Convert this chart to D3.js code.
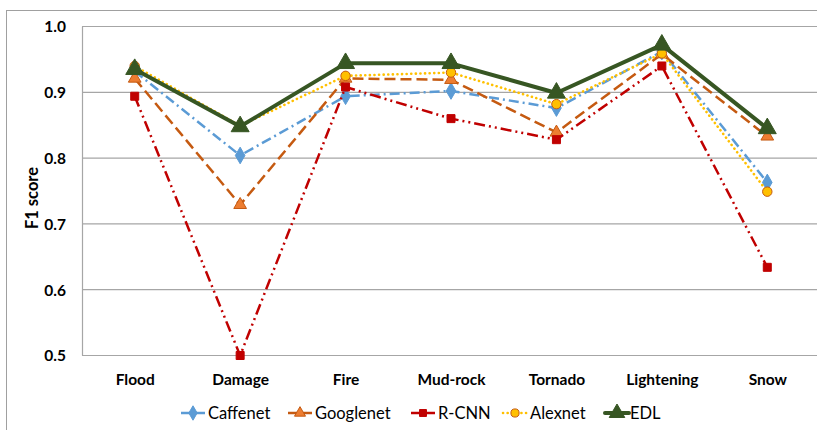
<!DOCTYPE html>
<html><head><meta charset="utf-8">
<script src="https://cdn.jsdelivr.net/npm/d3@7"></script>
<style>body{margin:0;background:#fff;} svg{display:block;}</style>
</head><body>
<svg id="chart" width="817" height="430"></svg>
<script>
const categories = ["Flood","Damage","Fire","Mud-rock","Tornado","Lightening","Snow"];
const caffenet  = [0.932, 0.804, 0.894, 0.902, 0.876, 0.962, 0.763];
const googlenet = [0.921, 0.729, 0.921, 0.919, 0.839, 0.958, 0.833];
const rcnn      = [0.894, 0.500, 0.908, 0.860, 0.828, 0.940, 0.634];
const alexnet   = [0.940, 0.849, 0.925, 0.930, 0.882, 0.959, 0.749];
const edl       = [0.935, 0.848, 0.944, 0.944, 0.899, 0.972, 0.845];
const yTicks = [0.5, 0.6, 0.7, 0.8, 0.9, 1.0];
const seriesNames = ["Caffenet","Googlenet","R-CNN","Alexnet","EDL"];

const series = [
  {name:seriesNames[0], values:caffenet,  line:"#5B9BD5", fill:"#5B9BD5", mstroke:"#5B9BD5", dash:"10 4 2 4", width:2.5, cap:"butt", marker:"diamond", msize:80},
  {name:seriesNames[1], values:googlenet, line:"#C55A11", fill:"#ED7D31", mstroke:"#C55A11", dash:"11 5", width:2.5, cap:"butt", marker:"triangle", msize:70},
  {name:seriesNames[2], values:rcnn,      line:"#C00000", fill:"#C00000", mstroke:"#C00000", dash:"11 4 2 4 2 4", width:2.5, cap:"butt", marker:"square", msize:64},
  {name:seriesNames[3], values:alexnet,   line:"#FFC000", fill:"#FFC000", mstroke:"#C55A11", dash:"0.1 4.5", width:2.6, cap:"round", marker:"circle", msize:70},
  {name:seriesNames[4], values:edl,       line:"#375623", fill:"#375623", mstroke:"#375623", dash:null, width:4, cap:"round", marker:"triangle", msize:140}
];

const svg = d3.select("#chart");
const font = "Lato, 'Open Sans', sans-serif";

// outer frame
svg.append("rect").attr("x",6.5).attr("y",10.5).attr("width",830).attr("height",440)
  .attr("fill","none").attr("stroke","#a0a0a0").attr("stroke-width",1);

const x = d3.scalePoint().domain(categories).range([82, 820]).padding(0.5);
const y = d3.scaleLinear().domain([0.5, 1.0]).range([355.5, 26.5]);

// gridlines
svg.append("g").selectAll("line").data(yTicks).join("line")
  .attr("x1",82).attr("x2",830).attr("y1",d=>y(d)).attr("y2",d=>y(d))
  .attr("stroke","#a6a6a6").attr("stroke-width",1.2);
// y axis line
svg.append("line").attr("x1",82.5).attr("x2",82.5).attr("y1",y(1.0)).attr("y2",y(0.5))
  .attr("stroke","#a6a6a6").attr("stroke-width",1.2);

// y tick labels
const yAxis = d3.axisLeft(y).tickValues(yTicks).tickFormat(d3.format(".1f")).tickSize(0).tickPadding(0);
const gy = svg.append("g").attr("transform","translate(66,0)").call(yAxis);
gy.select(".domain").remove();
gy.selectAll("text").attr("font-family",font).attr("font-weight","bold").attr("font-size",15.5).attr("fill","#000").attr("dy","0.35em");

// x labels
const xAxis = d3.axisBottom(x).tickSize(0).tickPadding(0);
const gx = svg.append("g").attr("transform","translate(0,373.5)").call(xAxis);
gx.select(".domain").remove();
gx.selectAll("text").attr("font-family",font).attr("font-weight","bold").attr("font-size",15.5).attr("fill","#000").attr("dy","0.71em");

// y title
svg.append("text").attr("transform","translate(38,198) rotate(-90)")
  .attr("text-anchor","middle").attr("font-family",font).attr("font-weight","bold")
  .attr("font-size",16.5).attr("fill","#000").text("F1 score");

const symbolType = {diamond:d3.symbolDiamond, triangle:d3.symbolTriangle, square:d3.symbolSquare, circle:d3.symbolCircle};
const lineGen = d3.line().x((d,i)=>x(categories[i])).y(d=>y(d));

series.forEach(s=>{
  const g = svg.append("g");
  g.append("path").attr("d",lineGen(s.values)).attr("fill","none")
    .attr("stroke",s.line).attr("stroke-width",s.width)
    .attr("stroke-dasharray",s.dash).attr("stroke-linecap",s.cap).attr("stroke-linejoin","round");
  g.selectAll("path.m").data(s.values).join("path").attr("class","m")
    .attr("transform",(d,i)=>`translate(${x(categories[i])},${y(d)})`)
    .attr("d",d3.symbol().type(symbolType[s.marker]).size(s.msize))
    .attr("fill",s.fill).attr("stroke",s.mstroke).attr("stroke-width",1);
});

// legend
const legendX = [181, 288, 411, 503, 605];
const legendY = 413;
series.forEach((s,i)=>{
  const g = svg.append("g").attr("transform",`translate(${legendX[i]},${legendY})`);
  g.append("line").attr("x1",0).attr("x2",24).attr("y1",0).attr("y2",0)
    .attr("stroke",s.line).attr("stroke-width",s.width)
    .attr("stroke-dasharray",s.marker==="circle" ? "0.1 4.5" : null)
    .attr("stroke-linecap",s.cap);
  g.append("path").attr("transform","translate(12,0)")
    .attr("d",d3.symbol().type(symbolType[s.marker]).size(s.msize*0.75))
    .attr("fill",s.fill).attr("stroke",s.mstroke).attr("stroke-width",1);
  g.append("text").attr("x",i===4?25:27).attr("y",0).attr("dy","0.35em")
    .attr("font-family",font).attr("font-size",16.5).attr("fill","#000").text(s.name);
});
</script>
</body></html>
